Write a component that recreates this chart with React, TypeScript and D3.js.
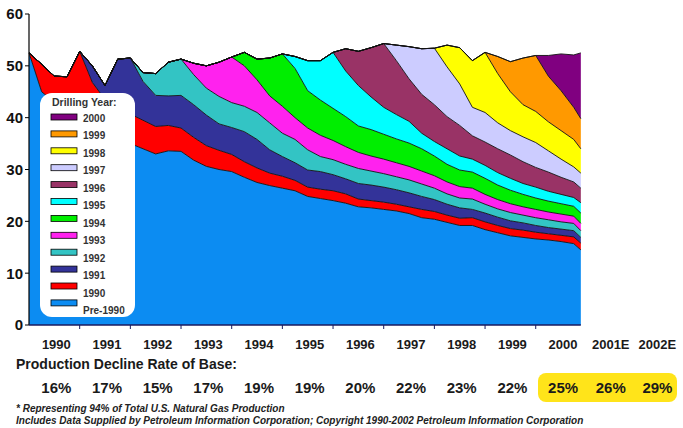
import React from 'react';
import * as d3 from 'd3';

// Quarterly sample times (decimal years); last point is the final month plotted
const QUARTERS = [
  1990, 1990.25, 1990.5, 1990.75, 1991, 1991.25, 1991.5, 1991.75,
  1992, 1992.25, 1992.5, 1992.75, 1993, 1993.25, 1993.5, 1993.75,
  1994, 1994.25, 1994.5, 1994.75, 1995, 1995.25, 1995.5, 1995.75,
  1996, 1996.25, 1996.5, 1996.75, 1997, 1997.25, 1997.5, 1997.75,
  1998, 1998.25, 1998.5, 1998.75, 1999, 1999.25, 1999.5, 1999.75,
  2000, 2000.25, 2000.5, 2000.75, 2000.89,
];

// Production by drilling-year cohort (Bcf/d)
const PRE_1990 = [52.5, 45.0, 43.0, 41.5, 40.3, 39.0, 37.8, 36.5, 35.0, 34.0, 33.0, 33.6, 33.5, 31.8, 30.6, 30.0, 29.6, 28.5, 27.5, 26.9, 26.4, 25.9, 24.8, 24.4, 24.0, 23.5, 22.8, 22.6, 22.3, 22.0, 21.5, 20.7, 20.4, 19.8, 19.2, 19.2, 18.4, 17.8, 17.2, 16.9, 16.6, 16.4, 16.1, 15.7, 14.5];
const Y1990 = [0, 5.3, 5.0, 6.4, 12.5, 7.8, 5.7, 5.5, 5.7, 5.5, 5.3, 4.9, 4.5, 4.4, 4.0, 3.7, 3.3, 3.0, 2.8, 2.4, 2.3, 2.0, 1.8, 1.8, 1.9, 1.8, 1.5, 1.4, 1.4, 1.3, 1.3, 1.6, 1.5, 1.4, 1.4, 1.5, 1.5, 1.4, 1.4, 1.4, 1.3, 1.2, 1.2, 1.3, 1.3];
const Y1991 = [0, 0, 0, 0, 0, 3.2, 2.7, 9.3, 10.8, 7.5, 6.0, 5.7, 6.3, 6.3, 5.9, 5.1, 5.2, 5.8, 5.5, 4.5, 3.8, 3.4, 3.3, 3.4, 3.1, 2.9, 3.0, 3.0, 2.9, 2.8, 2.7, 2.5, 2.3, 2.1, 2.0, 1.6, 1.7, 1.6, 1.5, 1.4, 1.3, 1.2, 1.2, 1.2, 1.1];
const Y1992 = [0, 0, 0, 0, 0, 0, 0, 0, 0, 1.7, 4.2, 6.5, 7.0, 5.8, 5.2, 5.3, 4.8, 4.9, 5.2, 5.2, 4.5, 4.5, 3.9, 2.9, 2.9, 2.8, 2.9, 2.7, 2.6, 2.5, 2.5, 2.4, 2.2, 2.0, 1.9, 2.0, 1.7, 1.6, 1.6, 1.5, 1.5, 1.5, 1.4, 1.4, 1.3];
const Y1993 = [0, 0, 0, 0, 0, 0, 0, 0, 0, 0, 0, 0, 0, 2.2, 4.3, 6.6, 8.8, 7.8, 6.3, 5.2, 5.2, 4.2, 4.2, 4.1, 3.7, 3.4, 3.1, 2.9, 2.8, 2.7, 2.6, 2.5, 2.4, 2.3, 2.2, 2.1, 1.9, 1.8, 1.7, 1.6, 1.6, 1.5, 1.5, 1.4, 1.4];
const Y1994 = [0, 0, 0, 0, 0, 0, 0, 0, 0, 0, 0, 0, 0, 0, 0, 0, 0, 2.6, 4.0, 7.3, 10.1, 9.5, 7.2, 6.8, 6.2, 5.8, 5.1, 5.1, 4.8, 4.6, 4.5, 4.3, 3.8, 3.4, 3.2, 3.1, 3.1, 2.8, 2.6, 2.4, 2.2, 2.1, 2.0, 1.9, 2.0];
const Y1995 = [0, 0, 0, 0, 0, 0, 0, 0, 0, 0, 0, 0, 0, 0, 0, 0, 0, 0, 0, 0, 0, 2.3, 5.8, 7.6, 10.8, 8.8, 7.8, 6.3, 5.2, 4.7, 4.2, 3.0, 2.8, 3.0, 2.7, 2.5, 2.5, 2.4, 2.3, 2.1, 2.1, 1.9, 1.8, 1.7, 2.0];
const Y1996 = [0, 0, 0, 0, 0, 0, 0, 0, 0, 0, 0, 0, 0, 0, 0, 0, 0, 0, 0, 0, 0, 0, 0, 0, 0, 4.3, 6.6, 9.5, 12.3, 10.4, 8.2, 7.5, 7.1, 6.2, 5.9, 4.5, 4.5, 4.6, 4.5, 4.2, 3.8, 3.7, 3.3, 3.0, 2.8];
const Y1997 = [0, 0, 0, 0, 0, 0, 0, 0, 0, 0, 0, 0, 0, 0, 0, 0, 0, 0, 0, 0, 0, 0, 0, 0, 0, 0, 0, 0, 0, 3.0, 6.2, 8.8, 10.9, 9.6, 8.0, 5.5, 5.7, 5.0, 4.7, 4.8, 4.8, 4.1, 3.5, 2.9, 2.9];
const Y1998 = [0, 0, 0, 0, 0, 0, 0, 0, 0, 0, 0, 0, 0, 0, 0, 0, 0, 0, 0, 0, 0, 0, 0, 0, 0, 0, 0, 0, 0, 0, 0, 0, 0, 4.2, 7.0, 9.0, 11.6, 9.5, 7.5, 6.2, 6.0, 5.6, 5.5, 5.3, 4.7];
const Y1999 = [0, 0, 0, 0, 0, 0, 0, 0, 0, 0, 0, 0, 0, 0, 0, 0, 0, 0, 0, 0, 0, 0, 0, 0, 0, 0, 0, 0, 0, 0, 0, 0, 0, 0, 0, 0, 0, 3.3, 5.8, 9.0, 10.8, 8.8, 7.7, 6.2, 5.8];
const Y2000 = [0, 0, 0, 0, 0, 0, 0, 0, 0, 0, 0, 0, 0, 0, 0, 0, 0, 0, 0, 0, 0, 0, 0, 0, 0, 0, 0, 0, 0, 0, 0, 0, 0, 0, 0, 0, 0, 0, 0, 0, 0, 4.0, 7.1, 10.1, 12.7];

const LAYER_KEYS = ['Pre-1990', '1990', '1991', '1992', '1993', '1994', '1995', '1996', '1997', '1998', '1999', '2000'];
const LAYER_VALUES = [PRE_1990, Y1990, Y1991, Y1992, Y1993, Y1994, Y1995, Y1996, Y1997, Y1998, Y1999, Y2000];
const LAYER_COLORS = ['#0C8CF2', '#FF0000', '#333399', '#33C4C4', '#FF22EE', '#00EE00', '#00FFFF', '#993366', '#CCCCFF', '#FFFF00', '#FF9900', '#800080'];

const Y_TICKS = [0, 10, 20, 30, 40, 50, 60];
const YEAR_LABELS = ['1990', '1991', '1992', '1993', '1994', '1995', '1996', '1997', '1998', '1999', '2000', '2001E', '2002E'];
const DECLINE_RATES = ['16%', '17%', '15%', '17%', '19%', '19%', '20%', '22%', '23%', '22%', '25%', '26%', '29%'];
const FOOTNOTES = [
  '* Representing 94% of Total U.S. Natural Gas Production',
  'Includes Data Supplied by Petroleum Information Corporation; Copyright 1990-2002 Petroleum Information Corporation',
];

const FONT = '"Liberation Sans", Arial, Helvetica, sans-serif';

export default function App() {
  const x = d3.scaleLinear().domain([1990, 2001]).range([29, 586.4]);
  const y = d3.scaleLinear().domain([0, 60]).range([325, 14]);

  const rows = QUARTERS.map((t, i) => {
    const r: any = { t };
    LAYER_KEYS.forEach((k, j) => { r[k] = LAYER_VALUES[j][i]; });
    return r;
  });
  const series = d3.stack<any>().keys(LAYER_KEYS)(rows);
  const area = d3.area<any>().x((d) => x(d.data.t)).y0((d) => y(d[0])).y1((d) => y(d[1]));
  const line = d3.line<any>().x((d) => x(d.data.t)).y((d) => y(d[1]));

  const tEnd = QUARTERS[QUARTERS.length - 1];
  const labelX = (i: number) => x(1990.5 + i) + (i < 11 ? 2 : i === 11 ? -1 : -5);

  const legendOrder = LAYER_KEYS.map((k, i) => i).reverse();

  return (
    <svg width={683} height={428} style={{ position: 'absolute', left: 0, top: 0, background: '#fff' }} fontFamily={FONT}>
      <rect x={0} y={0} width={683} height={428} fill="#fff" />
      {series.map((s, i) => (
        <path key={'a' + i} d={area(s) || ''} fill={LAYER_COLORS[i]} stroke="none" />
      ))}
      {series.map((s, i) => (
        <path key={'l' + i} d={line(s) || ''} fill="none" stroke="#111" strokeWidth={0.9} />
      ))}

      {/* y axis */}
      <line x1={29} x2={29} y1={y(60)} y2={y(0)} stroke="#000" strokeWidth={1.2} />
      {Y_TICKS.map((v) => (
        <g key={'y' + v}>
          <line x1={25} x2={29} y1={y(v)} y2={y(v)} stroke="#000" />
          <text x={23} y={y(v)} dy="0.36em" textAnchor="end" fontSize={15} fontWeight="bold" fill="#111">{v}</text>
        </g>
      ))}

      {/* x axis */}
      <line x1={29} x2={x(tEnd)} y1={y(0)} y2={y(0)} stroke="#1a1a5e" strokeWidth={1.5} />
      {d3.range(1991, 2001).map((yr) => (
        <line key={'xt' + yr} x1={x(yr)} x2={x(yr)} y1={y(0)} y2={y(0) + 4} stroke="#1a1a5e" />
      ))}
      {YEAR_LABELS.map((lab, i) => (
        <text key={'yl' + i} x={labelX(i)} y={349} textAnchor="middle" fontSize={13} fontWeight="bold" fill="#1a1a1a">{lab}</text>
      ))}

      <text x={16} y={369} fontSize={14} fontWeight="bold" fill="#1a1a1a">Production Decline Rate of Base:</text>

      <rect x={538} y={373} width={139} height={29} rx={8} fill="#FFE41A" />
      {DECLINE_RATES.map((lab, i) => (
        <text key={'dr' + i} x={labelX(i)} y={393} textAnchor="middle" fontSize={15} fontWeight="bold" fill="#1a1a1a">{lab}</text>
      ))}

      <text x={16} y={412} fontSize={10} fontStyle="italic" fontWeight="bold" fill="#222">{FOOTNOTES[0]}</text>
      <text x={16} y={424} fontSize={10} fontStyle="italic" fontWeight="bold" fill="#222">{FOOTNOTES[1]}</text>

      {/* legend */}
      <rect x={40} y={93} width={95} height={224} rx={12} fill="#fff" />
      <text x={52} y={106} fontSize={10.5} fontWeight="bold" fill="#333">Drilling Year:</text>
      {legendOrder.map((li, j) => (
        <g key={'lg' + li}>
          <rect x={51} y={114 + j * 16.9} width={26} height={6} fill={LAYER_COLORS[li]} stroke="#000" strokeWidth={0.8} />
          <text x={83} y={122 + j * 17.45} fontSize={10} fontWeight="bold" fill="#333">{LAYER_KEYS[li]}</text>
        </g>
      ))}
    </svg>
  );
}
